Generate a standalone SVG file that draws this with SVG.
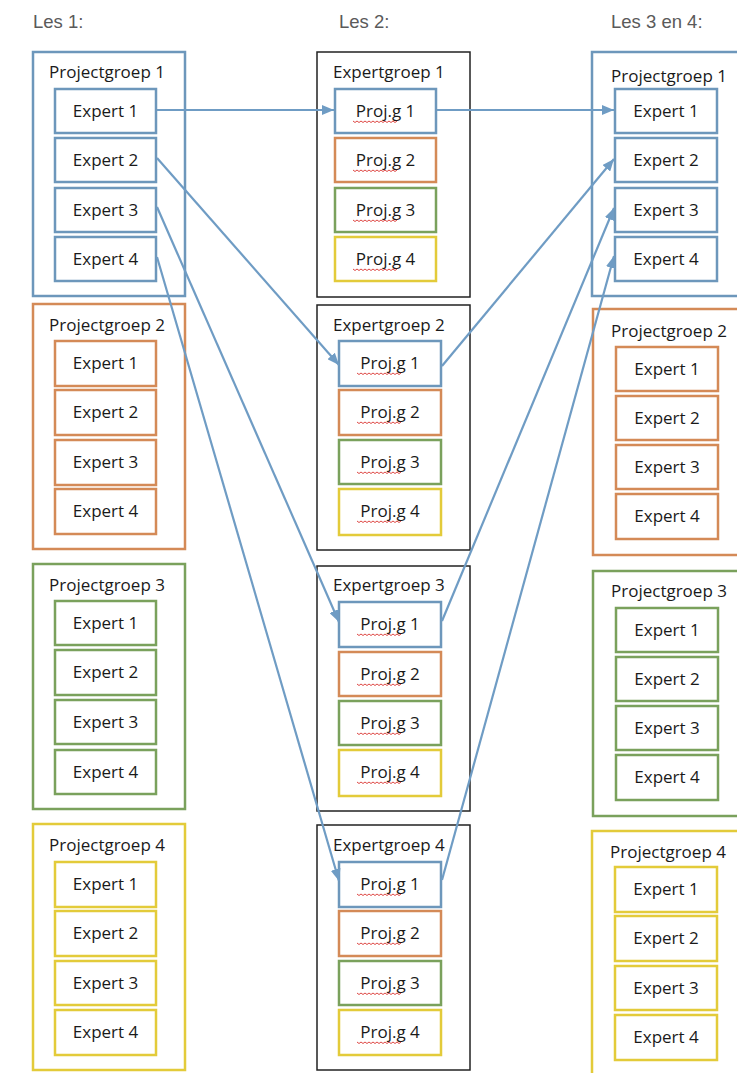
<svg xmlns="http://www.w3.org/2000/svg" width="737" height="1073" viewBox="0 0 737 1073">
<style>
.hdr{font-family:"Liberation Sans",Arial,sans-serif;font-size:18.5px;fill:#5a5a5a}
.lbl{font-family:"Open Sans","Liberation Sans",sans-serif;font-size:17px;fill:#1a1a1a}
.it{font-family:"Open Sans","Liberation Sans",sans-serif;font-size:17px;fill:#1a1a1a;text-anchor:middle}
.box{fill:#fff;stroke-width:2.5}
.outer{fill:#fff;stroke-width:2.5}
.blk{fill:#fff;stroke:#222;stroke-width:1.5}
.b{stroke:#6d97bb}
.o{stroke:#d48a57}
.g{stroke:#7aa15c}
.y{stroke:#e3cb3a}
.conn{fill:none;stroke:#6f9cc4;stroke-width:2.2;marker-end:url(#ah)}
.wv{fill:none;stroke:#d9322f;stroke-width:0.9}
</style>
<defs>
<marker id="ah" markerUnits="userSpaceOnUse" markerWidth="12" markerHeight="10" refX="12" refY="5" orient="auto">
<path d="M0,0 L12,5 L0,10 z" fill="#6f9cc4"/>
</marker>
<path id="wavy" class="wv" d="M0,0 l2,1.5 l2,-1.5 l2,1.5 l2,-1.5 l2,1.5 l2,-1.5 l2,1.5 l2,-1.5 l2,1.5 l2,-1.5 l2,1.5 l2,-1.5 l2,1.5 l2,-1.5 l2,1.5 l2,-1.5 l2,1.5 l2,-1.5 l2,1.5 l2,-1.5 l2,1.5 l2,-1.5"/>
</defs>
<rect width="737" height="1073" fill="#fff"/>

<text class="hdr" x="33" y="28">Les 1:</text>
<text class="hdr" x="339" y="28">Les 2:</text>
<text class="hdr" x="611" y="28">Les 3 en 4:</text>

<!-- Les 1 -->
<g id="l1-pg1">
<rect class="outer b" x="33" y="52" width="152" height="244"/>
<text class="lbl" x="49" y="78">Projectgroep 1</text>
<rect class="box b" x="55" y="89" width="101" height="44"/><text class="it" x="105.5" y="117">Expert 1</text>
<rect class="box b" x="55" y="138" width="101" height="44"/><text class="it" x="105.5" y="166">Expert 2</text>
<rect class="box b" x="55" y="188" width="101" height="44"/><text class="it" x="105.5" y="216">Expert 3</text>
<rect class="box b" x="55" y="237" width="101" height="44"/><text class="it" x="105.5" y="265">Expert 4</text>
</g>
<g id="l1-pg2">
<rect class="outer o" x="33" y="304" width="152" height="245"/>
<text class="lbl" x="49" y="331">Projectgroep 2</text>
<rect class="box o" x="55" y="341" width="101" height="45"/><text class="it" x="105.5" y="369">Expert 1</text>
<rect class="box o" x="55" y="390" width="101" height="45"/><text class="it" x="105.5" y="418">Expert 2</text>
<rect class="box o" x="55" y="440" width="101" height="45"/><text class="it" x="105.5" y="468">Expert 3</text>
<rect class="box o" x="55" y="489" width="101" height="45"/><text class="it" x="105.5" y="517">Expert 4</text>
</g>
<g id="l1-pg3">
<rect class="outer g" x="33" y="564" width="152" height="245"/>
<text class="lbl" x="49" y="591">Projectgroep 3</text>
<rect class="box g" x="55" y="601" width="101" height="44"/><text class="it" x="105.5" y="629">Expert 1</text>
<rect class="box g" x="55" y="650" width="101" height="45"/><text class="it" x="105.5" y="678">Expert 2</text>
<rect class="box g" x="55" y="700" width="101" height="44"/><text class="it" x="105.5" y="728">Expert 3</text>
<rect class="box g" x="55" y="750" width="101" height="44"/><text class="it" x="105.5" y="778">Expert 4</text>
</g>
<g id="l1-pg4">
<rect class="outer y" x="33" y="824" width="152" height="246"/>
<text class="lbl" x="49" y="851">Projectgroep 4</text>
<rect class="box y" x="55" y="862" width="101" height="45"/><text class="it" x="105.5" y="890">Expert 1</text>
<rect class="box y" x="55" y="911" width="101" height="45"/><text class="it" x="105.5" y="939">Expert 2</text>
<rect class="box y" x="55" y="961" width="101" height="44"/><text class="it" x="105.5" y="989">Expert 3</text>
<rect class="box y" x="55" y="1010" width="101" height="45"/><text class="it" x="105.5" y="1038">Expert 4</text>
</g>

<!-- Les 2 -->
<g id="l2-eg1">
<rect class="blk" x="317" y="52" width="153" height="245"/>
<text class="lbl" x="333" y="78">Expertgroep 1</text>
<rect class="box b" x="335" y="89" width="101" height="44"/><text class="it" x="385.5" y="117">Proj.g 1</text><use href="#wavy" x="353" y="121"/>
<rect class="box o" x="335" y="138" width="101" height="44"/><text class="it" x="385.5" y="166">Proj.g 2</text><use href="#wavy" x="353" y="170"/>
<rect class="box g" x="335" y="188" width="101" height="44"/><text class="it" x="385.5" y="216">Proj.g 3</text><use href="#wavy" x="353" y="220"/>
<rect class="box y" x="335" y="237" width="101" height="44"/><text class="it" x="385.5" y="265">Proj.g 4</text><use href="#wavy" x="353" y="269"/>
</g>
<g id="l2-eg2">
<rect class="blk" x="317" y="305" width="153" height="245"/>
<text class="lbl" x="333" y="331">Expertgroep 2</text>
<rect class="box b" x="339" y="341" width="102" height="45"/><text class="it" x="390" y="369">Proj.g 1</text><use href="#wavy" x="357" y="373"/>
<rect class="box o" x="339" y="390" width="102" height="45"/><text class="it" x="390" y="418">Proj.g 2</text><use href="#wavy" x="357" y="422"/>
<rect class="box g" x="339" y="440" width="102" height="44"/><text class="it" x="390" y="468">Proj.g 3</text><use href="#wavy" x="357" y="472"/>
<rect class="box y" x="339" y="489" width="102" height="46"/><text class="it" x="390" y="517">Proj.g 4</text><use href="#wavy" x="357" y="521"/>
</g>
<g id="l2-eg3">
<rect class="blk" x="317" y="566" width="153" height="245"/>
<text class="lbl" x="333" y="591">Expertgroep 3</text>
<rect class="box b" x="339" y="602" width="102" height="45"/><text class="it" x="390" y="630">Proj.g 1</text><use href="#wavy" x="357" y="634"/>
<rect class="box o" x="339" y="652" width="102" height="44"/><text class="it" x="390" y="680">Proj.g 2</text><use href="#wavy" x="357" y="684"/>
<rect class="box g" x="339" y="701" width="102" height="44"/><text class="it" x="390" y="729">Proj.g 3</text><use href="#wavy" x="357" y="733"/>
<rect class="box y" x="339" y="750" width="102" height="46"/><text class="it" x="390" y="778">Proj.g 4</text><use href="#wavy" x="357" y="782"/>
</g>
<g id="l2-eg4">
<rect class="blk" x="317" y="825" width="153" height="245"/>
<text class="lbl" x="333" y="851">Expertgroep 4</text>
<rect class="box b" x="339" y="862" width="102" height="45"/><text class="it" x="390" y="890">Proj.g 1</text><use href="#wavy" x="357" y="894"/>
<rect class="box o" x="339" y="911" width="102" height="45"/><text class="it" x="390" y="939">Proj.g 2</text><use href="#wavy" x="357" y="943"/>
<rect class="box g" x="339" y="961" width="102" height="44"/><text class="it" x="390" y="989">Proj.g 3</text><use href="#wavy" x="357" y="993"/>
<rect class="box y" x="339" y="1010" width="102" height="45"/><text class="it" x="390" y="1038">Proj.g 4</text><use href="#wavy" x="357" y="1042"/>
</g>

<!-- Les 3 en 4 -->
<g id="l3-pg1">
<rect class="outer b" x="592" y="52" width="160" height="244"/>
<text class="lbl" x="611" y="82">Projectgroep 1</text>
<rect class="box b" x="615" y="89" width="102" height="44"/><text class="it" x="666" y="117">Expert 1</text>
<rect class="box b" x="615" y="138" width="102" height="44"/><text class="it" x="666" y="166">Expert 2</text>
<rect class="box b" x="615" y="188" width="102" height="44"/><text class="it" x="666" y="216">Expert 3</text>
<rect class="box b" x="615" y="237" width="102" height="44"/><text class="it" x="666" y="265">Expert 4</text>
</g>
<g id="l3-pg2">
<rect class="outer o" x="593" y="309" width="160" height="246"/>
<text class="lbl" x="611" y="337">Projectgroep 2</text>
<rect class="box o" x="616" y="347" width="102" height="44"/><text class="it" x="667" y="375">Expert 1</text>
<rect class="box o" x="616" y="396" width="102" height="44"/><text class="it" x="667" y="424">Expert 2</text>
<rect class="box o" x="616" y="445" width="102" height="44"/><text class="it" x="667" y="473">Expert 3</text>
<rect class="box o" x="616" y="494" width="102" height="45"/><text class="it" x="667" y="522">Expert 4</text>
</g>
<g id="l3-pg3">
<rect class="outer g" x="593" y="571" width="160" height="245"/>
<text class="lbl" x="611" y="597">Projectgroep 3</text>
<rect class="box g" x="616" y="608" width="102" height="44"/><text class="it" x="667" y="636">Expert 1</text>
<rect class="box g" x="616" y="657" width="102" height="44"/><text class="it" x="667" y="685">Expert 2</text>
<rect class="box g" x="616" y="706" width="102" height="44"/><text class="it" x="667" y="734">Expert 3</text>
<rect class="box g" x="616" y="755" width="102" height="45"/><text class="it" x="667" y="783">Expert 4</text>
</g>
<g id="l3-pg4">
<rect class="outer y" x="592" y="831" width="160" height="260"/>
<text class="lbl" x="610" y="858">Projectgroep 4</text>
<rect class="box y" x="615" y="867" width="102" height="45"/><text class="it" x="666" y="895">Expert 1</text>
<rect class="box y" x="615" y="916" width="102" height="45"/><text class="it" x="666" y="944">Expert 2</text>
<rect class="box y" x="615" y="966" width="102" height="44"/><text class="it" x="666" y="994">Expert 3</text>
<rect class="box y" x="615" y="1015" width="102" height="45"/><text class="it" x="666" y="1043">Expert 4</text>
</g>

<g id="connectors">
<line class="conn" x1="157" y1="110" x2="334" y2="110"/>
<line class="conn" x1="157" y1="158" x2="339" y2="365"/>
<line class="conn" x1="157" y1="207" x2="339" y2="622"/>
<line class="conn" x1="157" y1="257" x2="339" y2="881"/>
<line class="conn" x1="437" y1="110" x2="614" y2="110"/>
<line class="conn" x1="442" y1="366" x2="614" y2="159"/>
<line class="conn" x1="442" y1="621" x2="614" y2="208"/>
<line class="conn" x1="442" y1="880" x2="614" y2="256"/>
</g>
</svg>
